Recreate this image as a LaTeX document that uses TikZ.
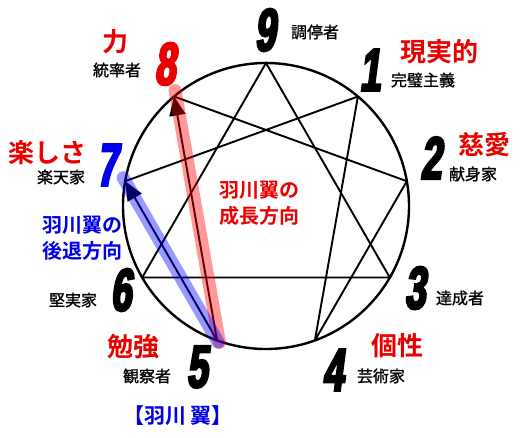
\documentclass[tikz,border=0pt]{standalone}
\usepackage{fontspec}
\usetikzlibrary{arrows.meta,calc}
\newfontfamily\jp{Noto Sans CJK JP}[BoldFont={Noto Sans CJK JP Bold}]
\newfontfamily\jpm{Noto Sans CJK JP}[FakeBold=1.2]
\newfontfamily\numf{Liberation Sans}[FakeStretch=0.62,FakeSlant=0.13,FakeBold=4]
\definecolor{myred}{RGB}{235,0,0}
\definecolor{myblue}{RGB}{0,0,235}
\tikzset{
  num/.style={inner sep=0pt, font=\numf\bfseries\fontsize{60}{60}\selectfont},
  biglab/.style={inner sep=0pt, text=myred, font=\jp\bfseries\fontsize{26}{26}\selectfont},
  smalllab/.style={inner sep=0pt, font=\jpm\fontsize{16}{16}\selectfont},
  midlab/.style={inner sep=0pt, align=center, font=\jp\bfseries\fontsize{20}{26}\selectfont},
  edge/.style={line width=1.9pt, black},
  arrowedge/.style={line width=1.9pt, black, -{Triangle[length=19pt,width=16pt]}},
  band/.style={line width=13pt, line cap=round, draw opacity=0.4},
}
\begin{document}
\begin{tikzpicture}[x=1pt,y=-1pt]
\useasboundingbox (0,0) rectangle (522,437);
\coordinate (c) at (266,206);
\coordinate (p9) at (266,63);
\coordinate (p1) at (357.9,96.5);
\coordinate (p2) at (406.8,181.2);
\coordinate (p3) at (389.8,277.5);
\coordinate (p4) at (314.9,340.4);
\coordinate (p5) at (217.1,340.4);
\coordinate (p6) at (142.2,277.5);
\coordinate (p7) at (125.2,181.2);
\coordinate (p8) at (174.1,96.5);
% circle
\draw[line width=2.4pt] (c) circle (143pt);
% triangle 9-3-6
\draw[edge] (p9) -- (p3) -- (p6) -- cycle;
% hexad 1-4-2-8-5-7-1
\draw[edge] (p1) -- (p4);
\draw[edge] (p4) -- (p2);
\draw[edge] (p2) -- (p8);
\draw[edge] (p7) -- (p1);
\draw[arrowedge] (p5) -- (p8);
\draw[arrowedge] (p5) -- (p7);
% highlight bands
\draw[band, red] ($(p8)!-6pt!(p5)+(2,0)$) -- ($(p5)!-2pt!(p8)+(2,0)$);
\draw[band, blue] ($(p7)!-4pt!(p5)$) -- ($(p5)!-2pt!(p7)$);
% numbers
\node[num] (n9) at (265,30) {9};
\node[num] (n1) at (370,70) {1};
\node[num] (n2) at (431,158) {2};
\node[num] (n3) at (415,288) {3};
\node[num] (n4) at (333,370) {4};
\node[num] (n5) at (197,367) {5};
\node[num] (n6) at (121,290) {6};
\node[num, text=myblue] (n7) at (107,165) {7};
\node[num, text=myred] (n8) at (165,64) {8};
% labels
\node[smalllab] (l9) at (315,32) {調停者};
\node[biglab] (k1) at (439,52) {現実的};
\node[smalllab] (l1) at (423,80) {完璧主義};
\node[biglab] (k2) at (484,145) {慈愛};
\node[smalllab] (l2) at (473,174) {献身家};
\node[smalllab] (l3) at (460,298) {達成者};
\node[biglab] (k4) at (397,346) {個性};
\node[smalllab] (l4) at (381,376) {芸術家};
\node[biglab] (k5) at (133,347) {勉強};
\node[smalllab] (l5) at (147,376) {観察者};
\node[inner sep=0pt, text=myblue, font=\jp\bfseries\fontsize{21}{21}\selectfont] (name) at (178,416) {【羽川 翼】};
\node[smalllab] (l6) at (73,300) {堅実家};
\node[midlab, text=myblue] (back) at (82,238) {羽川翼の\\後退方向};
\node[biglab] (k7) at (48,153) {楽しさ};
\node[smalllab] (l7) at (61,177) {楽天家};
\node[biglab] (k8) at (115,42) {力};
\node[smalllab] (l8) at (117,70) {統率者};
\node[midlab, text=myred] (grow) at (259,203) {羽川翼の\\成長方向};
\end{tikzpicture}
\end{document}
